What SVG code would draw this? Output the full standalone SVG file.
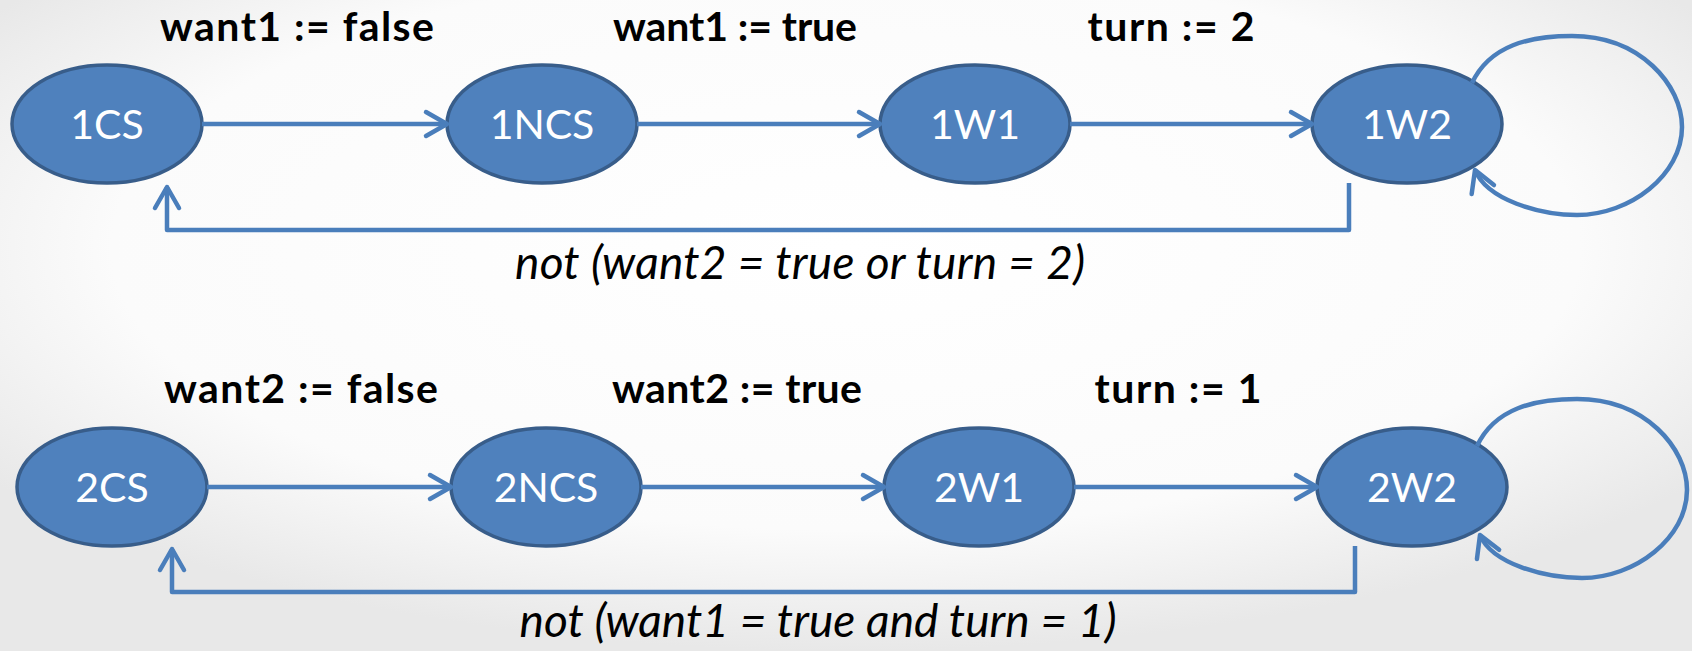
<svg xmlns="http://www.w3.org/2000/svg" width="1692" height="651" viewBox="0 0 1692 651">
  <defs>
    <radialGradient id="bg" cx="50%" cy="38%" r="62%">
      <stop offset="0" stop-color="#ffffff"/>
      <stop offset="0.7" stop-color="#fbfbfb"/>
      <stop offset="1" stop-color="#e8e8e8"/>
    </radialGradient>
    <marker id="arrow" markerUnits="userSpaceOnUse" viewBox="-30 -20 40 40" markerWidth="40" markerHeight="40" refX="0" refY="0" orient="auto">
      <path d="M-21,-12 L0,0 L-21,12" fill="none" stroke="#4a7ebb" stroke-width="4.5" stroke-linecap="round" stroke-linejoin="round"/>
    </marker>
    <style>
      .state ellipse { fill: #4f81bd; stroke: #385d8a; stroke-width: 3.5; }
      .state text { font-family: Lato, "Liberation Sans", sans-serif; font-size: 41px; fill: #ffffff; text-anchor: middle; }
      .edge { fill: none; stroke: #4a7ebb; stroke-width: 4.5; stroke-linejoin: round; marker-end: url(#arrow); }
      .action { font-family: Lato, "Liberation Sans", sans-serif; font-weight: bold; font-size: 41px; fill: #000000; text-anchor: middle; }
      .guard { font-family: Lato, "Liberation Sans", sans-serif; font-style: italic; font-size: 46px; fill: #000000; text-anchor: middle; }
    </style>
  </defs>

  <rect x="0" y="0" width="1692" height="651" fill="url(#bg)"/>

  <!-- process 1 states -->
  <g id="node-1CS" class="state"><ellipse cx="107" cy="124" rx="95" ry="59"/><text x="107" y="139">1CS</text></g>
  <g id="node-1NCS" class="state"><ellipse cx="542" cy="124" rx="95" ry="59"/><text x="542" y="139">1NCS</text></g>
  <g id="node-1W1" class="state"><ellipse cx="975" cy="124" rx="95" ry="59"/><text x="975" y="139">1W1</text></g>
  <g id="node-1W2" class="state"><ellipse cx="1407" cy="124" rx="95" ry="59"/><text x="1407" y="139">1W2</text></g>

  <!-- process 2 states -->
  <g id="node-2CS" class="state"><ellipse cx="112" cy="487" rx="95" ry="59"/><text x="112" y="502">2CS</text></g>
  <g id="node-2NCS" class="state"><ellipse cx="546" cy="487" rx="95" ry="59"/><text x="546" y="502">2NCS</text></g>
  <g id="node-2W1" class="state"><ellipse cx="979" cy="487" rx="95" ry="59"/><text x="979" y="502">2W1</text></g>
  <g id="node-2W2" class="state"><ellipse cx="1412" cy="487" rx="95" ry="59"/><text x="1412" y="502">2W2</text></g>

  <!-- transitions -->
  <g id="connectors">
    <path class="edge" d="M202,124 H447"/>
    <path class="edge" d="M637,124 H880"/>
    <path class="edge" d="M1070,124 H1312"/>
    <path class="edge" d="M1349,183 V230 H167 V187"/>
    <path class="edge" d="M1472,83 C1490,45 1530,36 1572,36 C1640,36 1682,85 1682,127 C1682,175 1630,215 1577,215 C1540,215 1487,200 1475,170"/>

    <path class="edge" d="M207,487 H451"/>
    <path class="edge" d="M641,487 H884"/>
    <path class="edge" d="M1074,487 H1317"/>
    <path class="edge" d="M1355,546 V592 H172 V549"/>
    <path class="edge" d="M1477,446 C1495,408 1535,399 1577,399 C1645,399 1687,448 1687,490 C1687,538 1635,578 1582,578 C1545,578 1492,564 1480,535"/>
  </g>

  <!-- transition labels -->
  <g id="labels">
    <text class="action" x="297" y="41" textLength="274">want1 := false</text>
    <text class="action" x="735" y="41" textLength="244">want1 := true</text>
    <text class="action" x="1171" y="41" textLength="167">turn := 2</text>
    <text class="guard" x="800" y="279" textLength="570">not (want2 = true or turn = 2)</text>

    <text class="action" x="301" y="403" textLength="274">want2 := false</text>
    <text class="action" x="737" y="403" textLength="250">want2 := true</text>
    <text class="action" x="1178" y="403" textLength="167">turn := 1</text>
    <text class="guard" x="818" y="637" textLength="597">not (want1 = true and turn = 1)</text>
  </g>
</svg>
